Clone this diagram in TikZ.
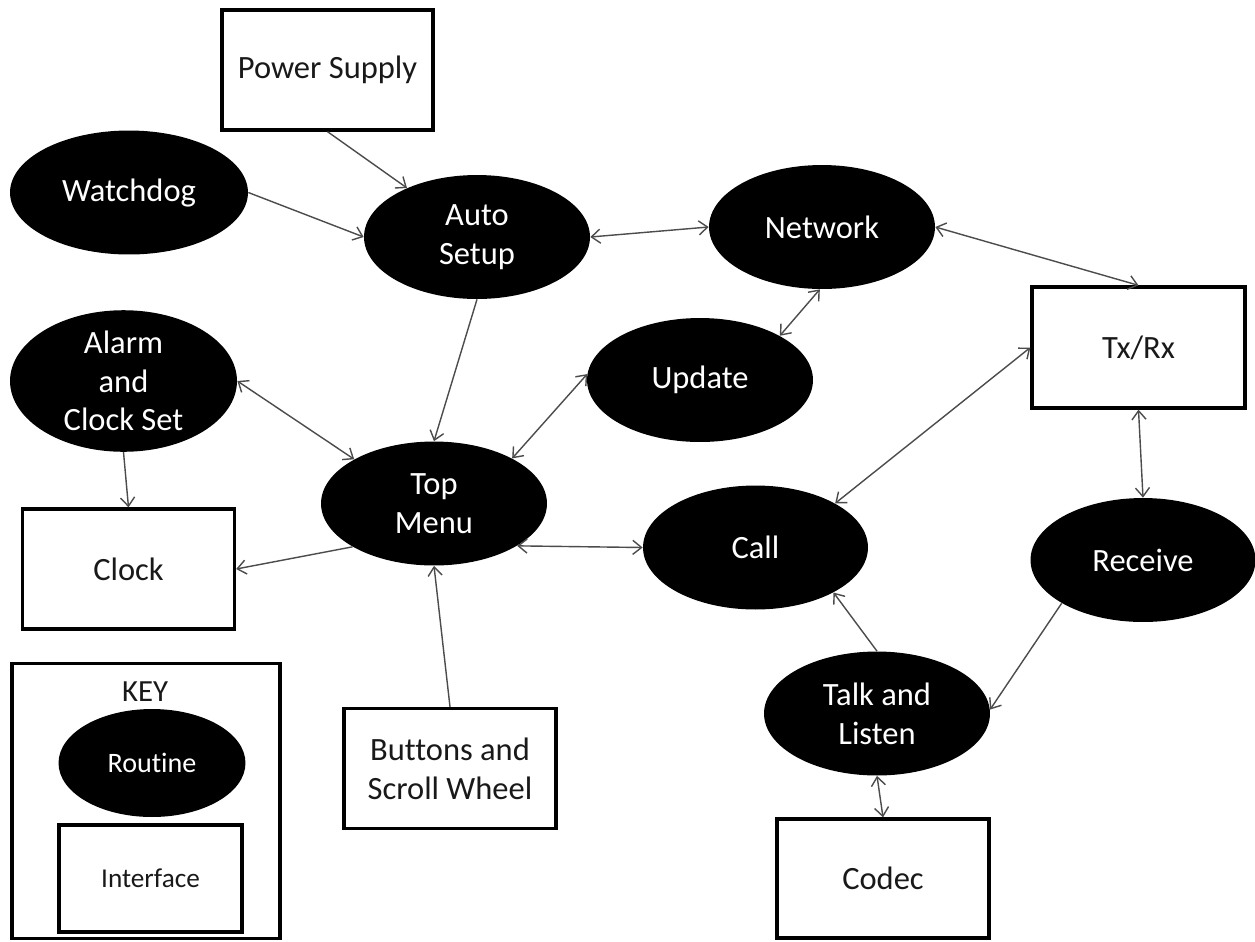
\documentclass[tikz,border=0pt]{standalone}
\usepackage{fontspec}
\setmainfont[Ligatures=NoCommon]{Carlito}
\usetikzlibrary{arrows.meta,shapes.geometric}
\begin{document}
\begin{tikzpicture}[x=0.02cm,y=-0.02cm,
  routine/.style={ellipse,fill=black,draw=none,inner sep=0pt,
    minimum width=4.52cm,minimum height=2.48cm,text=white,align=center,
    font=\fontsize{18.5}{22}\selectfont},
  iface/.style={rectangle,draw=black,line width=1.9pt,fill=white,inner sep=0pt,
    minimum width=4.24cm,minimum height=2.4cm,align=center,text=black!90,
    font=\fontsize{18.5}{22}\selectfont},
  conn/.style={draw=black!70,line width=0.8pt,-{Straight Barb[length=5pt,width=8pt]}},
  conn2/.style={draw=black!70,line width=0.8pt,{Straight Barb[length=5pt,width=8pt]}-{Straight Barb[length=5pt,width=8pt]}}
]
\path[use as bounding box,fill=white] (0,0) rectangle (1255,941);

% interfaces
\node[iface,minimum width=4.22cm] (ps) at (327.5,70) {Power Supply};
\node[iface,minimum width=4.26cm,minimum height=2.42cm] (txrx) at (1138.5,347.5) {Tx/Rx};
\node[iface] (clock) at (128.5,569) {Clock};
\node[iface] (btn) at (450,768.5) {Buttons and\\Scroll Wheel};
\node[iface,minimum height=2.38cm] (codec) at (883,878.5) {Codec};

% routines
\node[routine,minimum width=4.76cm] (wd) at (129,192.5) {Watchdog};
\node[routine] (auto) at (477,237) {Auto\\Setup};
\node[routine] (net) at (822,227) {Network};
\node[routine] (upd) at (700,380) {Update};
\node[routine,minimum width=4.54cm,minimum height=2.52cm] (alarm) at (123.5,381) {Alarm\\and\\Clock Set};
\node[routine] (top) at (434,503.5) {Top\\Menu};
\node[routine,minimum width=4.5cm] (call) at (755.5,547.5) {Call};
\node[routine,minimum width=4.5cm] (rec) at (1143,560) {Receive};
\node[routine] (talk) at (877,713.5) {Talk and\\Listen};

% key
\node[draw=black,line width=1.9pt,minimum width=5.36cm,minimum height=5.5cm,inner sep=0pt] (key) at (146,801) {};
\node[text=black!90,font=\fontsize{17.5}{20}\selectfont] (keylbl) at (145,692) {KEY};
\node[routine,minimum width=3.74cm,minimum height=2.16cm,font=\fontsize{16}{19}\selectfont] (kr) at (152,763) {Routine};
\node[iface,minimum width=3.66cm,minimum height=2.14cm,font=\fontsize{15.5}{18}\selectfont] (ki) at (150.5,878.5) {Interface};

% connectors
\draw[conn] (ps.south) -- (auto.145);
\draw[conn] (wd.0) -- (auto.180);
\draw[conn2] (auto.0) -- (net.180);
\draw[conn2] (net.0) -- (txrx.north);
\draw[conn2] (net.268) -- (upd.29);
\draw[conn] (auto.south) -- (top.90);
\draw[conn2] (alarm.0) -- (top.151);
\draw[conn2] (upd.177) -- (top.30);
\draw[conn] (alarm.270) -- (clock.north);
\draw[conn] (top.208) -- (clock.east);
\draw[conn2] (top.333) -- (call.180);
\draw[conn] (btn.north) -- (top.270);
\draw[conn2] (call.29) -- (txrx.west);
\draw[conn2] (txrx.south) -- (rec.90);
\draw[conn] (talk.90) -- (call.330);
\draw[conn] (rec.208) -- (talk.2);
\draw[conn2] (talk.south) -- (codec.north);
\end{tikzpicture}
\end{document}
